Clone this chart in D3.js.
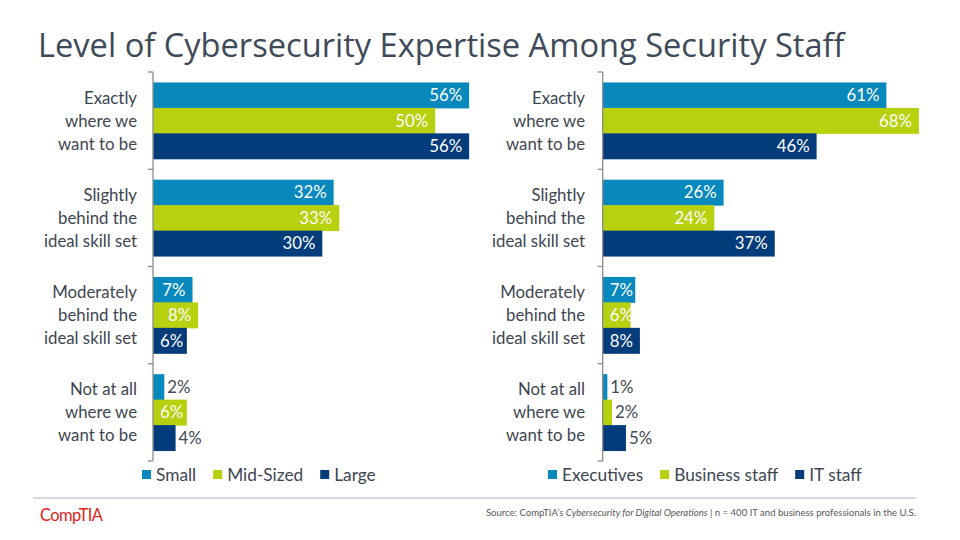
<!DOCTYPE html>
<html><head><meta charset="utf-8">
<script src="https://cdn.jsdelivr.net/npm/d3@7"></script>
<style>body{margin:0;background:#fff}svg{display:block}text{font-family:Lato,"Open Sans",sans-serif}</style>
</head><body><svg id="c" width="960" height="540"></svg>
<script>
const categories = [
  ["Exactly","where we","want to be"],
  ["Slightly","behind the","ideal skill set"],
  ["Moderately","behind the","ideal skill set"],
  ["Not at all","where we","want to be"]
];
const leftSeries = ["Small","Mid-Sized","Large"];
const leftValues = [
  [56, 50, 56],
  [32, 33, 30],
  [7, 8, 6],
  [2, 6, 4]
];
const rightSeries = ["Executives","Business staff","IT staff"];
const rightValues = [
  [61, 68, 46],
  [26, 24, 37],
  [7, 6, 8],
  [1, 2, 5]
];
const colors = ["#0789be","#b7d10f","#023c7b"];
const title = "Level of Cybersecurity  Expertise  Among Security Staff";

const svg = d3.select("#c");
svg.append("text").attr("x",38).attr("y",57).attr("font-size",31).attr("fill","#3e4a59")
  .style("font-family","'Open Sans',Lato,sans-serif").style("font-weight",400).attr("id","title").text(title);
function fit(node, target){const w=node.getComputedTextLength();const fs=+node.getAttribute("font-size");node.setAttribute("font-size",fs*target/w);}
fit(document.getElementById("title"), 807);

function panel(axisX, xMaxPx, maxVal, labelRight, values, series, legendX) {
  const g = svg.append("g");
  const x = d3.scaleLinear().domain([0, maxVal]).range([axisX, xMaxPx]);
  const y = d3.scaleBand().domain(d3.range(categories.length)).range([72, 461]).paddingInner(0).paddingOuter(0);
  const yi = d3.scaleBand().domain(d3.range(series.length)).range([0, y.bandwidth()]).paddingInner(0).paddingOuter(0.41);

  categories.forEach((lines, i) => {
    const cy = y(i) + y.bandwidth()/2;
    lines.forEach((ln, k) => {
      g.append("text").attr("x", labelRight).attr("y", cy + 6 + (k-1)*23)
        .attr("text-anchor","end").attr("font-size",16.8).attr("fill","#3d4651").text(ln);
    });
    values[i].forEach((v, j) => {
      const by = y(i) + yi(j);
      g.append("rect").attr("x", x(0)).attr("y", by).attr("width", x(v)-x(0)).attr("height", yi.bandwidth()+0.5).attr("fill", colors[j]);
      const t = g.append("text").attr("y", by + yi.bandwidth()/2 + 6).attr("font-size",16.8).text(v + "%");
      if (v >= 6) {
        t.attr("fill","#fff").attr("text-anchor","end").attr("x", x(v) - 7);
        const w = t.node().getComputedTextLength();
        if (x(v) - 7 - w < x(0) + 6) t.attr("text-anchor","start").attr("x", x(0) + 7);
      } else {
        t.attr("fill","#404a55").attr("text-anchor","start").attr("x", x(v) + 3);
      }
    });
  });
  // axis
  g.append("line").attr("x1",x(0)).attr("x2",x(0)).attr("y1",72).attr("y2",461).attr("stroke","#8c8c8c").attr("stroke-width",1.3);
  d3.range(categories.length+1).forEach(i => {
    const ty = i < categories.length ? y(i) : y(i-1)+y.bandwidth();
    g.append("line").attr("x1",x(0)-5).attr("x2",x(0)).attr("y1",ty).attr("y2",ty).attr("stroke","#8c8c8c").attr("stroke-width",1.3);
  });
  // legend
  let lx = legendX;
  series.forEach((s, j) => {
    g.append("rect").attr("x", lx).attr("y", 470).attr("width", 9).attr("height", 9).attr("fill", colors[j]);
    const t = g.append("text").attr("x", lx + 14).attr("y", 481).attr("font-size",17.3).attr("fill","#3d4651").text(s);
    lx += 14 + t.node().getComputedTextLength() + 17;
  });
}
panel(153, 153 + 5.645*60, 60, 137, leftValues, leftSeries, 142);
panel(602.7, 602.7 + 4.65*70, 70, 585, rightValues, rightSeries, 548);

// footer
svg.append("line").attr("x1",33).attr("x2",916).attr("y1",498).attr("y2",498).attr("stroke","#a9b8c6").attr("stroke-width",1);
const logo = svg.append("text").attr("x",40).attr("y",521).attr("font-size",15).attr("fill","#e2231a").style("letter-spacing","-0.6px").text("CompTIA");
fit(logo.node(), 62);
const src = svg.append("text").attr("x",916).attr("y",516).attr("text-anchor","end").attr("font-size",8.5).attr("fill","#595959");
src.append("tspan").text("Source: CompTIA\u2019s ");
src.append("tspan").attr("font-style","italic").text("Cybersecurity  for Digital Operations");
src.append("tspan").text("  |  n = 400 IT and business professionals  in the U.S.");
fit(src.node(), 431);
</script></body></html>
